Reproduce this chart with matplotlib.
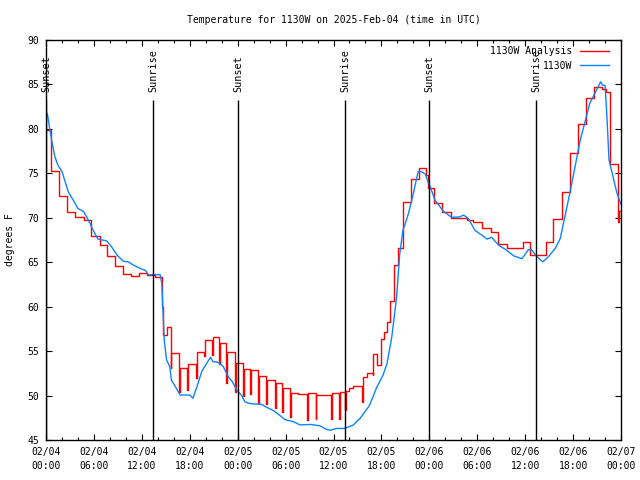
import numpy as np
import matplotlib
matplotlib.use("Agg")
import matplotlib.pyplot as plt

# hours since 02/04 00:00 UTC
blue_t = [0.0, 0.17, 0.4, 0.7, 1.1, 1.5, 2.0, 2.4, 2.8, 3.4, 4.0, 4.7, 5.3, 5.9, 6.5,
          7.6, 8.2, 8.9, 9.7, 10.3, 10.9, 11.8, 12.5, 12.8, 14.3, 14.5, 14.7, 14.8, 15.1,
          15.5, 15.7, 16.2, 16.8, 18.0, 18.4, 18.9, 19.5, 20.1, 20.6, 20.9, 21.3, 21.8,
          22.2, 22.6, 23.0, 23.3, 23.9, 24.5, 24.9, 25.5, 27.0, 27.8, 28.5, 29.3, 29.9,
          30.1, 31.0, 31.8, 33.1, 34.3, 35.1, 35.6, 36.4, 37.4, 38.5, 39.1, 39.3, 40.4,
          40.6, 41.4, 42.2, 42.7, 43.3, 43.9, 44.3, 44.7, 45.4, 46.0, 46.6, 47.0, 47.5,
          47.9, 48.1, 48.7, 49.8, 50.8, 51.8, 52.3, 52.9, 53.7, 54.8, 55.2, 55.8, 56.7,
          57.6, 58.6, 59.6, 60.4, 60.8, 61.4, 62.2, 62.9, 63.8, 64.4, 65.6, 66.9, 68.1,
          69.0, 69.45, 69.7, 70.0, 70.2, 70.5, 71.5, 72.0]
blue_v = [81.8, 81.7, 80.4, 78.75, 76.9, 75.9, 75.2, 74.05, 72.9, 72.0, 71.05, 70.7, 69.75,
          68.6, 67.6, 67.4, 66.75, 65.8, 65.1, 65.05, 64.7, 64.3, 64.05, 63.6, 63.6, 62.6,
          58.5, 56.25, 54.0, 53.25, 51.75, 51.0, 50.06, 50.06, 49.7, 51.0, 52.7, 53.6, 54.3,
          53.8, 53.8, 53.6, 53.25, 52.5, 51.9, 51.6, 50.6, 50.0, 49.3, 49.1, 49.0, 48.6,
          48.3, 47.75, 47.3, 47.25, 47.05, 46.7, 46.75, 46.6, 46.2, 46.1, 46.3, 46.3, 46.7,
          47.25, 47.4, 48.75, 49.1, 50.9, 52.3, 53.6, 56.6, 61.1, 66.0, 68.6, 70.5, 72.75,
          75.2, 75.2, 74.9, 73.9, 73.5, 72.0, 70.7, 70.05, 70.1, 70.3, 69.9, 68.6, 67.9,
          67.6, 67.8, 66.9, 66.4, 65.7, 65.4, 66.4, 66.4, 65.7, 65.05, 65.6, 66.6, 67.7,
          72.8, 78.75, 82.9, 84.5, 85.3, 84.9, 84.9, 82.0, 76.5, 72.75, 71.5]

# analysis: step start, step value, short dip just before the step (nan = none)
red_t = [0.0, 0.6, 1.6, 2.6, 3.6, 4.7, 5.6, 6.7, 7.6, 8.7, 9.7, 10.7, 11.7, 12.6, 13.6,
         14.55, 14.65, 15.1, 15.6, 16.7, 17.7, 18.8, 19.8, 20.8, 21.7, 22.6, 23.7, 24.7,
         25.6, 26.6, 27.6, 28.7, 29.6, 30.6, 31.6, 32.7, 33.8, 34.8, 35.7, 36.7, 37.5,
         38.0, 38.5, 39.6, 40.2, 40.9, 41.5, 41.9, 42.3, 42.7, 43.1, 43.6, 44.1, 44.7,
         45.7, 46.7, 47.6, 47.8, 48.6, 49.6, 50.7, 52.7, 53.5, 54.6, 55.7, 56.6, 57.7,
         59.7, 60.6, 62.6, 63.5, 64.6, 65.6, 66.6, 67.6, 68.6, 69.6, 70.1, 70.6, 71.6, 71.8]
red_v = [79.9, 75.3, 72.4, 70.6, 70.05, 69.8, 67.9, 66.9, 65.7, 64.6, 63.7, 63.45, 63.75,
         63.55, 63.3, 60.0, 56.8, 57.75, 54.75, 53.1, 53.6, 54.9, 56.3, 56.55, 55.95, 54.9,
         53.7, 52.95, 52.9, 52.2, 51.8, 51.45, 50.9, 50.3, 50.2, 50.25, 50.1, 50.1, 50.3,
         50.4, 50.5, 50.8, 51.1, 52.1, 52.5, 54.7, 53.4, 56.4, 57.2, 58.3, 60.6, 64.7, 66.6,
         71.8, 74.4, 75.55, 74.8, 73.3, 71.7, 70.6, 70.0, 69.75, 69.55, 68.9, 68.4, 67.1,
         66.6, 67.25, 65.8, 67.25, 69.9, 72.9, 77.25, 80.6, 83.5, 84.7, 84.5, 84.2, 76.1,
         69.5, 70.8]
nan = np.nan
red_dip = [nan] * 18 + [53.1, 50.4, 50.6, 52.0, 54.5, 54.6, 53.6, 51.45, 50.4, 50.0, 50.2,
           49.2, 49.05, 48.6, 48.2, 47.6, nan, 47.25, 47.4, nan, 47.4, 47.4, 48.4, nan,
           nan, 49.3, nan, 52.3] + [nan] * 35

sun_t = [0.05, 13.4, 24.04, 37.44, 47.96, 61.36]
sun_lbl = ["Sunset", "Sunrise", "Sunset", "Sunrise", "Sunset", "Sunrise"]

xtick_lbl = ["02/04\n00:00", "02/04\n06:00", "02/04\n12:00", "02/04\n18:00",
             "02/05\n00:00", "02/05\n06:00", "02/05\n12:00", "02/05\n18:00",
             "02/06\n00:00", "02/06\n06:00", "02/06\n12:00", "02/06\n18:00",
             "02/07\n00:00"]

# build red step path with dips
rt, rv = [], []
for t, v, d in zip(red_t, red_v, red_dip):
    if not np.isnan(d):
        rt.append(t)
        rv.append(d)
        rt.append(t + 0.06)
    else:
        rt.append(t)
    rv.append(v)
rt.append(72.0)
rv.append(red_v[-1])

plt.rcParams['font.family'] = 'DejaVu Sans Mono'
plt.rcParams['font.size'] = 7

fig = plt.figure(figsize=(6.4, 4.8), dpi=100)
ax = fig.add_axes([46/640, 40/480, 575/640, 400/480])

ax.plot(rt, rv, drawstyle='steps-post', color='#ff0000', lw=1.0, label='1130W Analysis')
ax.plot(blue_t, blue_v, color='#0a84ff', lw=1.0, label='1130W')

ax.vlines(sun_t, 45, 83.3, color='black', lw=1.0)
for t, s in zip(sun_t, sun_lbl):
    ax.text(t, 84.1, s, rotation=90, ha='center', va='bottom', fontsize=7.3)

ax.set_xlim(0, 72)
ax.set_ylim(45, 90)
ax.set_xticks(range(0, 73, 6))
ax.set_xticklabels(xtick_lbl, linespacing=1.45)
ax.set_xticks(range(0, 73, 2), minor=True)
ax.set_yticks(range(45, 91, 5))
ax.tick_params(which='both', direction='in', top=True, right=True)
ax.tick_params(which='major', length=4.5, width=0.8, pad=5)
ax.tick_params(which='minor', length=2.2, width=0.8)
for sp in ax.spines.values():
    sp.set_linewidth(1.0)

ax.set_title('Temperature for 1130W on 2025-Feb-04 (time in UTC)', fontsize=7, pad=12)
ax.set_ylabel('degrees F', labelpad=9)

ax.legend(loc='upper right', frameon=False, markerfirst=False, handlelength=3.0,
          handletextpad=0.8, labelspacing=0.45, borderaxespad=0.3, borderpad=0.35,
          bbox_to_anchor=(0.99, 1.0))

fig.savefig('out.png', dpi=100)
